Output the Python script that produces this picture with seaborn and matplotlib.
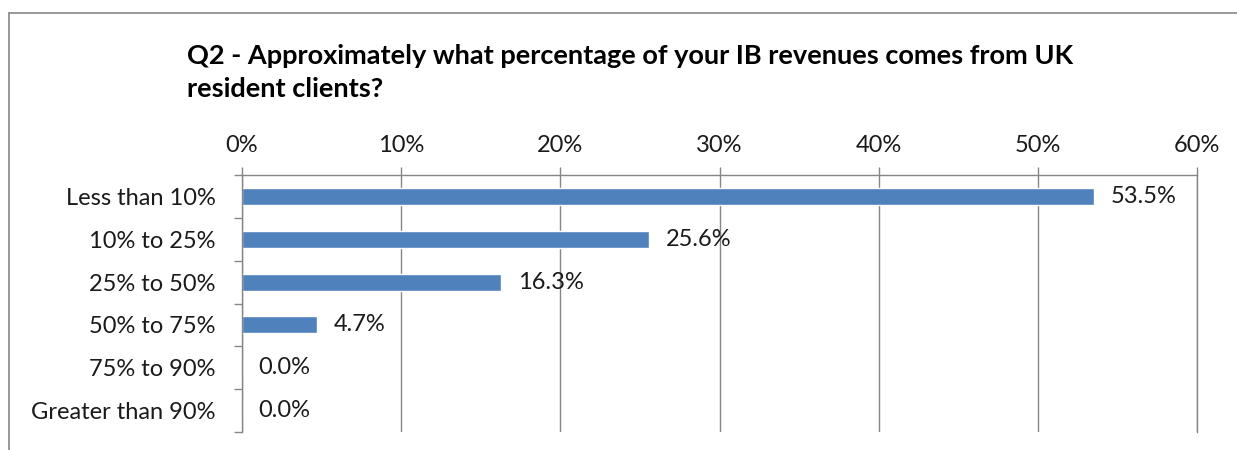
import matplotlib
matplotlib.use("Agg")
import matplotlib.pyplot as plt
import seaborn as sns
import pandas as pd
from matplotlib.lines import Line2D

categories = ["Less than 10%", "10% to 25%", "25% to 50%", "50% to 75%", "75% to 90%", "Greater than 90%"]
values = [53.5, 25.6, 16.3, 4.7, 0.0, 0.0]
xticks = [0, 10, 20, 30, 40, 50, 60]
title_lines = ["Q2 - Approximately what percentage of your IB revenues comes from UK",
               "resident clients?"]

sns.set_theme(style="white")
plt.rcParams['font.family'] = ['Lato', 'DejaVu Sans']

df = pd.DataFrame({"cat": categories, "val": values})

W, H = 1237, 450
fig = plt.figure(figsize=(W / 100, H / 100), dpi=100)
ax = fig.add_axes([242 / W, 1 - 432 / H, (1197 - 242) / W, (432 - 175) / H])

sns.barplot(data=df, y="cat", x="val", ax=ax, color="#4F81BD", width=0.4, saturation=1, orient="h")

FS = 17
ax.set_xlim(0, 60)
ax.set_ylim(5.5, -0.5)
ax.set_xticks(xticks)
ax.set_xticklabels([f"{t}%" for t in xticks], fontsize=FS, color="#1a1a1a")
ax.xaxis.tick_top()
ax.tick_params(axis="x", which="both", top=True, bottom=False, length=6, width=1, color="#868686", pad=8)
ax.set_yticks(range(len(categories)))
ax.set_yticklabels(categories, fontsize=FS, color="#1a1a1a")
ax.set_yticks([i - 0.5 for i in range(len(categories) + 1)], minor=True)
ax.tick_params(axis="y", which="major", left=False, length=0, pad=19)
ax.tick_params(axis="y", which="minor", left=True, length=6, width=1, color="#868686")
ax.set_xlabel("")
ax.set_ylabel("")
ax.grid(axis="x", color="#868686", linewidth=1)
ax.set_axisbelow(True)
ax.spines["bottom"].set_visible(False)
for s in ["top", "left", "right"]:
    ax.spines[s].set_visible(True)
    ax.spines[s].set_color("#868686")
    ax.spines[s].set_linewidth(1)

for i, v in enumerate(values):
    ax.annotate(f"{v:.1f}%", xy=(v, i), xytext=(12, 0), textcoords="offset points",
                va="center", ha="left", fontsize=FS, color="#1a1a1a")

fig.text(187 / W, 1 - 56 / H, title_lines[0], fontsize=19.5, fontweight="bold", ha="left", va="center",
         color="#000000")
fig.text(187 / W, 1 - 89 / H, title_lines[1], fontsize=19.5, fontweight="bold", ha="left", va="center",
         color="#000000")

fig.lines.append(Line2D([8.5 / W, 1], [1 - 12.5 / H, 1 - 12.5 / H], transform=fig.transFigure,
                        color="#868686", linewidth=1.2))
fig.lines.append(Line2D([8.5 / W, 8.5 / W], [0, 1 - 12.5 / H], transform=fig.transFigure,
                        color="#868686", linewidth=1.2))

fig.savefig("out.png", dpi=100)
